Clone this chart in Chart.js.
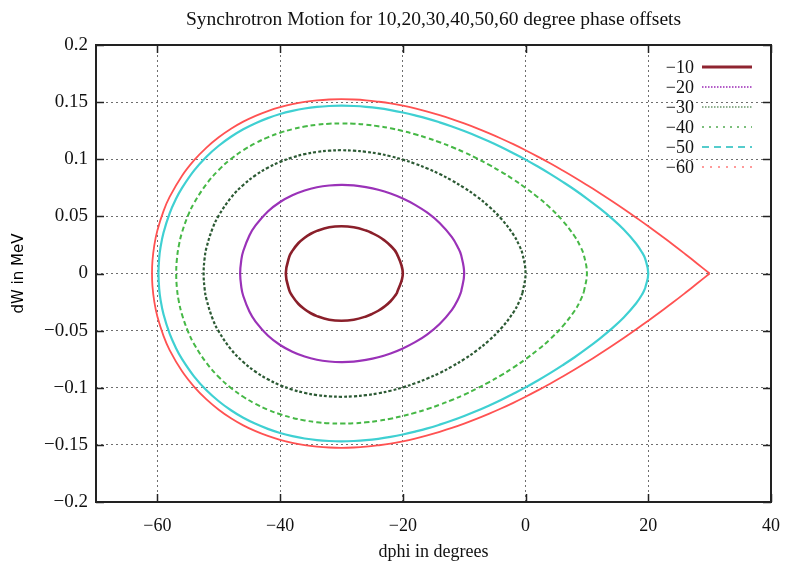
<!DOCTYPE html>
<html>
<head>
<meta charset="utf-8">
<title>Synchrotron Motion</title>
<script src="https://cdn.jsdelivr.net/npm/chart.js@4.4.1/dist/chart.umd.min.js"></script>
<style>
  html, body { margin: 0; padding: 0; background: #ffffff; }
  #wrap { width: 785px; height: 566px; }
</style>
</head>
<body>
<div id="wrap"><canvas id="chart" width="785" height="566"></canvas></div>
<script>
// Phase-space trajectories around the stable phase of -30 degrees.
// Each curve is stored as its upper half (dW >= 0), from the right
// turning point to the left turning point; the lower half is its mirror.

const seriesLabels = ['\u221210', '\u221220', '\u221230', '\u221240', '\u221250', '\u221260'];

const phi10 = [-20, -21, -22, -23, -24, -25, -26, -28, -30, -32, -34, -35, -36, -37, -38, -38.5, -39.07];
const dW10  = [0, 0.0176, 0.0243, 0.0290, 0.0326, 0.0354, 0.0376, 0.0404, 0.0413, 0.0404, 0.0373, 0.0348, 0.0313, 0.0267, 0.0198, 0.0147, 0];

const phi20 = [-10, -10.5, -11, -12, -14, -16, -18, -20, -22, -24, -26, -28, -30, -32, -34, -36, -38, -40, -42, -44, -45, -46, -46.3, -46.51];
const dW20  = [0, 0.0161, 0.0226, 0.0318, 0.0442, 0.0532, 0.0601, 0.0656, 0.0700, 0.0733, 0.0756, 0.0771, 0.0775, 0.0770, 0.0755, 0.0727, 0.0685, 0.0626, 0.0543, 0.0421, 0.0333, 0.0197, 0.0125, 0];

const phi30 = [0, -0.5, -1, -2, -4, -6, -8, -10, -12, -14, -16, -18, -20, -22, -24, -26, -28, -30, -32, -34, -36, -38, -40, -42, -44, -46, -48, -50, -51, -52, -52.3, -52.46];
const dW30  = [0, 0.0171, 0.0242, 0.0342, 0.0482, 0.0588, 0.0676, 0.0750, 0.0814, 0.0871, 0.0919, 0.0961, 0.0997, 0.1026, 0.1049, 0.1065, 0.1075, 0.1079, 0.1075, 0.1064, 0.1045, 0.1016, 0.0977, 0.0926, 0.0860, 0.0775, 0.0664, 0.0507, 0.0396, 0.0225, 0.0133, 0];

const phi40 = [10, 9.5, 9, 8, 6, 4, 2, 0, -2, -4, -6, -8, -10, -12, -14, -16, -18, -20, -22, -24, -26, -28, -30, -32, -34, -36, -38, -40, -42, -44, -46, -48, -50, -52, -54, -55, -56, -56.5, -56.8, -56.93];
const dW40  = [0, 0.0162, 0.0229, 0.0326, 0.0465, 0.0575, 0.0668, 0.0750, 0.0824, 0.0892, 0.0953, 0.1009, 0.1061, 0.1107, 0.1149, 0.1186, 0.1219, 0.1247, 0.1271, 0.1289, 0.1303, 0.1311, 0.1314, 0.1311, 0.1302, 0.1286, 0.1263, 0.1232, 0.1192, 0.1141, 0.1079, 0.1002, 0.0906, 0.0783, 0.0619, 0.0508, 0.0357, 0.0244, 0.0135, 0];

const phi50 = [20, 19.5, 19, 18, 16, 14, 12, 10, 8, 6, 4, 2, 0, -2, -4, -6, -8, -10, -12, -14, -16, -18, -20, -22, -24, -26, -28, -30, -32, -34, -36, -38, -40, -42, -44, -46, -48, -50, -52, -54, -56, -57, -58, -59, -59.5, -59.7, -59.82];
const dW50  = [0, 0.0128, 0.0183, 0.0263, 0.0385, 0.0485, 0.0574, 0.0656, 0.0733, 0.0804, 0.0872, 0.0936, 0.0997, 0.1053, 0.1107, 0.1157, 0.1204, 0.1247, 0.1287, 0.1323, 0.1356, 0.1384, 0.1409, 0.1430, 0.1447, 0.1459, 0.1466, 0.1469, 0.1466, 0.1458, 0.1444, 0.1423, 0.1396, 0.1360, 0.1316, 0.1263, 0.1197, 0.1118, 0.1022, 0.0902, 0.0747, 0.0649, 0.0527, 0.0357, 0.0224, 0.0137, 0];

// Separatrix: sharp tip at +30 degrees
const phi60 = [30, 28, 26, 24, 22, 20, 18, 16, 14, 12, 10, 8, 6, 4, 2, 0, -2, -4, -6, -8, -10, -12, -14, -16, -18, -20, -22, -24, -26, -28, -30, -32, -34, -36, -38, -40, -42, -44, -46, -48, -50, -52, -54, -56, -58, -59, -60, -60.5, -60.8, -60.87];
const dW60  = [0, 0.0086, 0.0171, 0.0254, 0.0334, 0.0413, 0.0490, 0.0565, 0.0637, 0.0707, 0.0775, 0.0841, 0.0904, 0.0965, 0.1023, 0.1079, 0.1132, 0.1182, 0.1229, 0.1273, 0.1314, 0.1352, 0.1386, 0.1417, 0.1445, 0.1469, 0.1489, 0.1504, 0.1516, 0.1523, 0.1526, 0.1523, 0.1515, 0.1502, 0.1482, 0.1456, 0.1422, 0.1380, 0.1329, 0.1267, 0.1192, 0.1102, 0.0992, 0.0854, 0.0670, 0.0546, 0.0377, 0.0247, 0.0110, 0];

const xTicks = [-60, -40, -20, 0, 20, 40];
const xTickLabels = ['\u221260', '\u221240', '\u221220', '0', '20', '40'];
const yTicks = [-0.2, -0.15, -0.1, -0.05, 0, 0.05, 0.1, 0.15, 0.2];
const yTickLabels = ['\u22120.2', '\u22120.15', '\u22120.1', '\u22120.05', '0', '0.05', '0.1', '0.15', '0.2'];

const chartTitle = 'Synchrotron Motion for 10,20,30,40,50,60 degree phase offsets';
const xTitle = 'dphi in degrees';
const yTitle = 'dW in MeV';

// Closed loop: upper half from right to left, then mirrored lower half back.
// Rounded loops start one point below the right turning point so that tip
// gets a vertical tangent; the separatrix starts and ends on its sharp tip.
function loop(phi, dW, roundTip) {
  const pts = [];
  const n = phi.length;
  if (roundTip) pts.push({ x: phi[1], y: -dW[1] });
  for (let i = 0; i < n; i++) pts.push({ x: phi[i], y: dW[i] });
  for (let i = n - 2; i >= (roundTip ? 1 : 0); i--) pts.push({ x: phi[i], y: -dW[i] });
  return pts;
}

const SERIF = '"Liberation Serif", "Times New Roman", serif';
const SANS = '"DejaVu Sans", sans-serif';

const curveStyles = [
  { color: '#8a1f2a', width: 2.6, dash: [],     roundTip: true,  key: { color: '#8f2430', width: 3,   dash: [] } },
  { color: '#9a32b8', width: 2.2, dash: [],     roundTip: true,  key: { color: '#b35cc8', width: 2,   dash: [1.5, 1.5] } },
  { color: '#2c5a34', width: 2.2, dash: [3, 2], roundTip: true,  key: { color: '#8fb08f', width: 2,   dash: [1.5, 1.5] } },
  { color: '#46b846', width: 2.0, dash: [5, 3], roundTip: true,  key: { color: '#7cbf7c', width: 2,   dash: [2, 5] } },
  { color: '#3fd0d2', width: 2.2, dash: [],     roundTip: true,  key: { color: '#55cccc', width: 2.2, dash: [7, 5] } },
  { color: '#ff5252', width: 1.8, dash: [],     roundTip: false, key: { color: '#ff9a9a', width: 2,   dash: [2, 6] } }
];

const halves = [[phi10, dW10], [phi20, dW20], [phi30, dW30], [phi40, dW40], [phi50, dW50], [phi60, dW60]];

const datasets = halves.map(([phi, dW], i) => {
  const st = curveStyles[i];
  return {
    label: seriesLabels[i],
    data: loop(phi, dW, st.roundTip),
    showLine: true,
    borderColor: st.color,
    borderWidth: st.width,
    borderDash: st.dash,
    tension: 0.4,
    pointRadius: 0,
    pointHoverRadius: 0,
    fill: false,
    keyStyle: st.key
  };
});

// Frame, inward tick marks, titles and the key
const decor = {
  id: 'decor',
  afterDatasetsDraw(chart) {
    const { ctx, chartArea: a, scales } = chart;
    ctx.save();
    ctx.strokeStyle = '#222';
    ctx.lineWidth = 2;
    ctx.strokeRect(a.left, a.top, a.right - a.left, a.bottom - a.top);
    ctx.lineWidth = 1.5;
    const tl = 8;
    ctx.beginPath();
    xTicks.forEach(v => {
      const px = Math.round(scales.x.getPixelForValue(v)) + 0.5;
      ctx.moveTo(px, a.bottom); ctx.lineTo(px, a.bottom - tl);
      ctx.moveTo(px, a.top); ctx.lineTo(px, a.top + tl);
    });
    yTicks.forEach(v => {
      const py = Math.round(scales.y.getPixelForValue(v)) + 0.5;
      ctx.moveTo(a.left, py); ctx.lineTo(a.left + tl, py);
      ctx.moveTo(a.right, py); ctx.lineTo(a.right - tl, py);
    });
    ctx.stroke();

    // key
    ctx.font = '18px ' + SERIF;
    ctx.fillStyle = '#111';
    ctx.textAlign = 'right';
    ctx.textBaseline = 'middle';
    chart.data.datasets.forEach((ds, i) => {
      const y = 67 + i * 20;
      ctx.fillText(ds.label, 694, y + 1);
      const k = ds.keyStyle;
      ctx.save();
      ctx.strokeStyle = k.color;
      ctx.lineWidth = k.width;
      ctx.setLineDash(k.dash);
      ctx.beginPath();
      ctx.moveTo(702, y); ctx.lineTo(752, y);
      ctx.stroke();
      ctx.restore();
    });
    ctx.restore();
  },
  afterDraw(chart) {
    const { ctx, chartArea: a } = chart;
    const cx = (a.left + a.right) / 2;
    ctx.save();
    ctx.fillStyle = '#111';
    ctx.textAlign = 'center';
    ctx.textBaseline = 'middle';
    ctx.font = '19.5px ' + SERIF;
    ctx.fillText(chartTitle, cx, 20);
    ctx.font = '18px ' + SERIF;
    ctx.fillText(xTitle, cx, 552);
    ctx.translate(19, (a.top + a.bottom) / 2);
    ctx.rotate(-Math.PI / 2);
    ctx.fillStyle = '#000';
    ctx.font = '15px ' + SANS;
    ctx.fillText(yTitle, 0, 0);
    ctx.restore();
  }
};

new Chart(document.getElementById('chart'), {
  type: 'scatter',
  data: { datasets },
  options: {
    responsive: false,
    animation: false,
    devicePixelRatio: 1,
    layout: { padding: { top: 45, right: 14, left: 0, bottom: 0 } },
    plugins: {
      legend: { display: false },
      title: { display: false },
      tooltip: { enabled: false }
    },
    scales: {
      x: {
        type: 'linear',
        min: -70,
        max: 40,
        afterBuildTicks: s => { s.ticks = xTicks.map(v => ({ value: v })); },
        afterFit: s => { s.height = 64; s.paddingLeft = 0; s.paddingRight = 0; },
        grid: { color: '#6e6e6e', lineWidth: 1, drawTicks: false },
        border: { display: false, dash: [2, 3] },
        ticks: {
          padding: 13,
          maxRotation: 0,
          autoSkip: false,
          color: '#111',
          font: { family: SERIF, size: 18 },
          callback: (v, i) => xTickLabels[i]
        }
      },
      y: {
        type: 'linear',
        min: -0.2,
        max: 0.2,
        afterBuildTicks: s => { s.ticks = yTicks.map(v => ({ value: v })); },
        afterFit: s => { s.width = 96; s.paddingTop = 0; s.paddingBottom = 0; },
        grid: { color: '#6e6e6e', lineWidth: 1, drawTicks: false },
        border: { display: false, dash: [2, 3] },
        ticks: {
          padding: 8,
          autoSkip: false,
          color: '#111',
          font: { family: SERIF, size: 19 },
          callback: (v, i) => yTickLabels[i]
        }
      }
    }
  },
  plugins: [decor]
});
</script>
</body>
</html>
